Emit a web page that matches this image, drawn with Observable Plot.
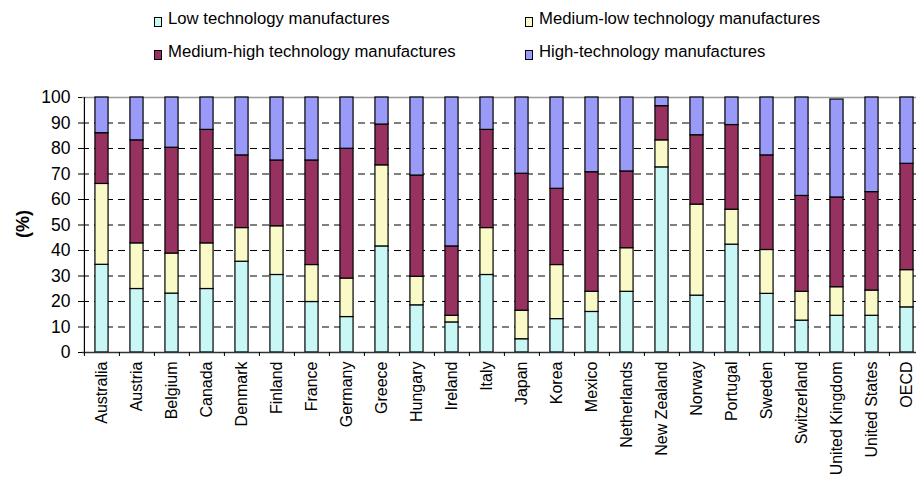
<!DOCTYPE html>
<html>
<head>
<meta charset="utf-8">
<script src="https://cdn.jsdelivr.net/npm/d3@7"></script>
<script src="https://cdn.jsdelivr.net/npm/@observablehq/plot@0.6"></script>
<style>
  html, body { margin: 0; padding: 0; background: #fff; overflow: hidden; }
  body { font-family: "Liberation Sans", Arial, sans-serif; color: #000; width: 916px; height: 477px; }
  #legend { position: relative; width: 916px; height: 72px; }
  #legend .label { position: absolute; font-size: 16.7px; line-height: 16px; white-space: nowrap; }
  #legend .swatch { position: absolute; width: 8px; height: 10px; border: 1px solid #000; box-sizing: border-box; }
  #chart { width: 916px; overflow: hidden; }
</style>
</head>
<body>
<div id="legend"></div>
<div id="chart"></div>
<script>
// Share of manufacturing by technology intensity, per country (%)
const countries = [
  "Australia", "Austria", "Belgium", "Canada", "Denmark", "Finland", "France", "Germany",
  "Greece", "Hungary", "Ireland", "Italy", "Japan", "Korea", "Mexico", "Netherlands",
  "New Zealand", "Norway", "Portugal", "Sweden", "Switzerland", "United Kingdom", "United States", "OECD"
];
const lowTech        = [34.4, 24.9, 23.1, 24.9, 35.6, 30.4, 19.8, 13.9, 41.6, 18.5, 11.8, 30.4, 5.2, 13.1, 15.9, 23.8, 72.6, 22.3, 42.3, 23.0, 12.5, 14.4, 14.4, 17.7];
const mediumLowTech  = [31.7, 17.9, 15.7, 17.9, 13.2, 19.1, 14.5, 15.1, 31.8, 11.2, 2.6, 18.4, 11.2, 21.2, 7.9, 17.1, 10.6, 35.7, 13.7, 17.2, 11.3, 11.2, 9.9, 14.6];
const mediumHighTech = [19.9, 40.4, 41.5, 44.5, 28.5, 25.8, 41.0, 50.9, 16.0, 39.7, 27.2, 38.5, 53.7, 29.9, 46.9, 30.1, 13.4, 27.2, 33.2, 37.1, 37.6, 35.2, 38.6, 41.7];
const highTech       = [14.0, 16.8, 19.7, 12.7, 22.7, 24.7, 24.7, 20.1, 10.6, 30.6, 58.4, 12.7, 29.9, 35.8, 29.3, 29.0, 3.4, 14.8, 10.8, 22.7, 38.6, 38.4, 37.1, 26.0];

const seriesNames = [
  "Low technology manufactures",
  "Medium-low technology manufactures",
  "Medium-high technology manufactures",
  "High-technology manufactures"
];
const seriesColors = ["#c8f7f6", "#fafac9", "#963160", "#9a9bf8"];
const yTicks = [0, 10, 20, 30, 40, 50, 60, 70, 80, 90, 100];
const yTitle = "(%)";

const seriesValues = [lowTech, mediumLowTech, mediumHighTech, highTech];
const table = countries.flatMap((country, i) =>
  seriesValues.map((values, k) => ({country, series: seriesNames[k], value: values[i]}))
);

// Legend: two columns, two rows
const legend = d3.select("#legend");
const cols = [154, 525];
const rows = [25, 58];
seriesNames.forEach((name, k) => {
  const cx = cols[k % 2], base = rows[Math.floor(k / 2)];
  legend.append("div").attr("class", "swatch")
    .style("left", cx + "px").style("top", (base - 8) + "px")
    .style("background", seriesColors[k]);
  legend.append("div").attr("class", "label")
    .style("left", (cx + 14) + "px").style("top", (base - 13.8) + "px")
    .text(name);
});

// Plot geometry
const width = 926, marginLeft = 82, marginRight = 0;
const step = (width - marginLeft - marginRight) / countries.length;
const barInset = (step - 13.3) / 2;

const chart = Plot.plot({
  width,
  height: 405,
  marginLeft,
  marginRight,
  marginTop: 25,
  marginBottom: 125,
  style: {fontFamily: "'Liberation Sans', Arial, sans-serif", background: "#fff", color: "#000", maxWidth: "none"},
  x: {domain: countries, padding: 0, axis: null},
  y: {domain: [0, 100], axis: null},
  color: {domain: seriesNames, range: seriesColors},
  marks: [
    Plot.ruleY(yTicks.filter(v => v > 0 && v < 100), {stroke: "#000", strokeDasharray: "7,5", strokeWidth: 1.2}),
    Plot.ruleY([100], {stroke: "#9a9a9a", strokeWidth: 1.3}),
    Plot.barY(table, {
      x: "country", y: "value", fill: "series",
      stroke: "#000", strokeWidth: 1.2,
      insetLeft: barInset, insetRight: barInset
    }),
    Plot.ruleY([0], {stroke: "#2b3535", strokeWidth: 1.6}),
    Plot.ruleX([countries[0]], {dx: -step / 2, y1: 0, y2: 100, stroke: "#000", strokeWidth: 1.2}),
    Plot.axisY(yTicks, {anchor: "left", tickSize: 4, tickPadding: 8, fontSize: 17.5, label: null}),
    Plot.axisX({anchor: "bottom", tickSize: 4, dx: -step / 2, tickFormat: () => "", label: null}),
    Plot.axisX({anchor: "bottom", tickSize: 0, tickPadding: 9, tickRotate: -90, fontSize: 16, label: null})
  ]
});
document.getElementById("chart").appendChild(chart);

// Y-axis title
d3.select(chart).append("text")
  .attr("transform", "translate(23,152) rotate(-90)")
  .attr("text-anchor", "middle")
  .attr("dy", "0.35em")
  .style("font-size", "18px")
  .style("font-weight", "bold")
  .attr("fill", "#000")
  .text(yTitle);
</script>
</body>
</html>
